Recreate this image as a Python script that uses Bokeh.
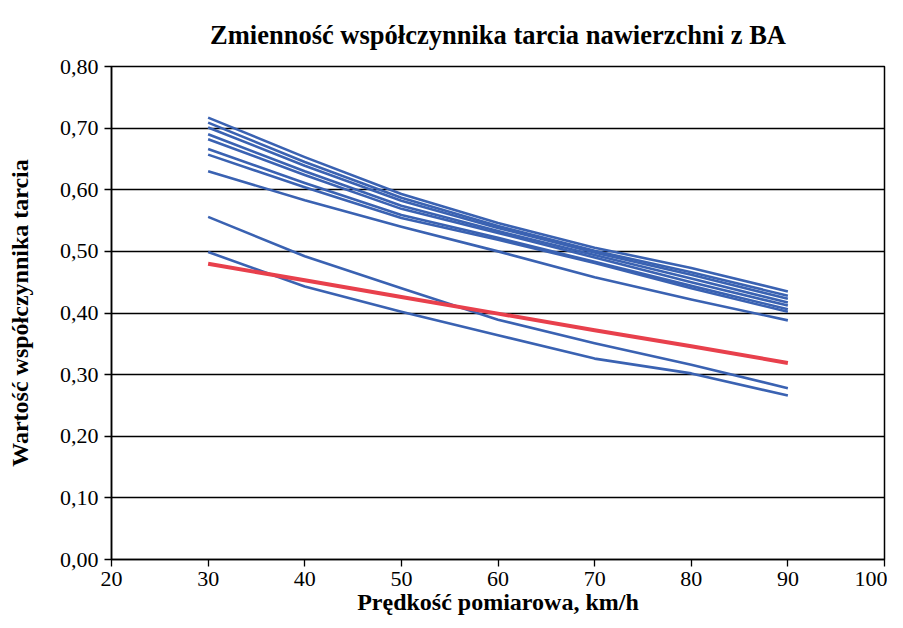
from bokeh.plotting import figure
from bokeh.models import FixedTicker, CustomJSTickFormatter, Range1d
from bokeh.embed import file_html
from bokeh.resources import INLINE

# --- data ---
speeds = [30, 40, 50, 60, 70, 80, 90]

blue_1 = [0.717, 0.653, 0.593, 0.546, 0.506, 0.473, 0.435]
blue_2 = [0.709, 0.645, 0.587, 0.541, 0.501, 0.466, 0.428]
blue_3 = [0.701, 0.639, 0.582, 0.538, 0.498, 0.462, 0.423]
blue_4 = [0.690, 0.630, 0.574, 0.533, 0.494, 0.456, 0.417]
blue_5 = [0.682, 0.624, 0.569, 0.530, 0.490, 0.450, 0.412]
blue_6 = [0.666, 0.611, 0.559, 0.522, 0.483, 0.444, 0.406]
blue_7 = [0.657, 0.604, 0.554, 0.519, 0.481, 0.440, 0.402]
blue_8 = [0.630, 0.583, 0.540, 0.500, 0.458, 0.422, 0.388]
blue_9 = [0.556, 0.492, 0.440, 0.389, 0.351, 0.316, 0.278]
blue_10 = [0.499, 0.443, 0.402, 0.364, 0.326, 0.302, 0.266]
red_line = [0.480, 0.453, 0.426, 0.399, 0.372, 0.346, 0.319]

blue_series = [blue_1, blue_2, blue_3, blue_4, blue_5, blue_6, blue_7,
               blue_8, blue_9, blue_10]

x_ticks = [20, 30, 40, 50, 60, 70, 80, 90, 100]
y_ticks = [0.0, 0.1, 0.2, 0.3, 0.4, 0.5, 0.6, 0.7, 0.8]

title_text = "Zmienność współczynnika tarcia nawierzchni z BA"
x_label = "Prędkość pomiarowa, km/h"
y_label = "Wartość współczynnika tarcia"

FONT = "Liberation Serif"

p = figure(width=887, height=617, output_backend="svg", toolbar_location=None,
           x_range=Range1d(20, 100), y_range=Range1d(0, 0.8),
           min_border_left=111, min_border_right=3,
           min_border_top=66, min_border_bottom=55)

p.title.text = title_text
p.title.align = "center"
p.title.text_font = FONT
p.title.text_font_size = "26.5px"
p.title.text_font_style = "bold"
p.title.text_color = "black"
p.title.standoff = 34

p.outline_line_color = "black"
p.outline_line_width = 1.5

p.xgrid.grid_line_color = None
p.ygrid.grid_line_color = "black"
p.ygrid.grid_line_width = 1.3
p.ygrid.ticker = FixedTicker(ticks=y_ticks)

p.xaxis.ticker = FixedTicker(ticks=x_ticks)
p.yaxis.ticker = FixedTicker(ticks=y_ticks)
p.yaxis.formatter = CustomJSTickFormatter(code="return tick.toFixed(2).replace('.', ',');")

for ax in (p.xaxis, p.yaxis):
    ax.axis_line_color = "black"
    ax.axis_line_width = 1.5
    ax.major_tick_line_color = "black"
    ax.major_tick_line_width = 1.3
    ax.major_tick_out = 7
    ax.major_tick_in = 0
    ax.minor_tick_line_color = None
    ax.major_label_text_font = FONT
    ax.major_label_text_font_size = "22px"
    ax.major_label_text_color = "black"
    ax.axis_label_text_font = FONT
    ax.axis_label_text_font_size = "24px"
    ax.axis_label_text_font_style = "bold"
    ax.axis_label_text_color = "black"

p.xaxis.axis_label = x_label
p.yaxis.axis_label = y_label
p.xaxis.major_label_standoff = 5
p.xaxis.axis_label_standoff = 0
p.yaxis.major_label_standoff = 6
p.yaxis.axis_label_standoff = 24

for s in blue_series:
    p.line(speeds, s, line_color="#3a62b2", line_width=2.6, line_join="round")

p.line(speeds, red_line, line_color="#e8404c", line_width=4, line_join="round")

open("out.html", "w").write(file_html(p, INLINE))
